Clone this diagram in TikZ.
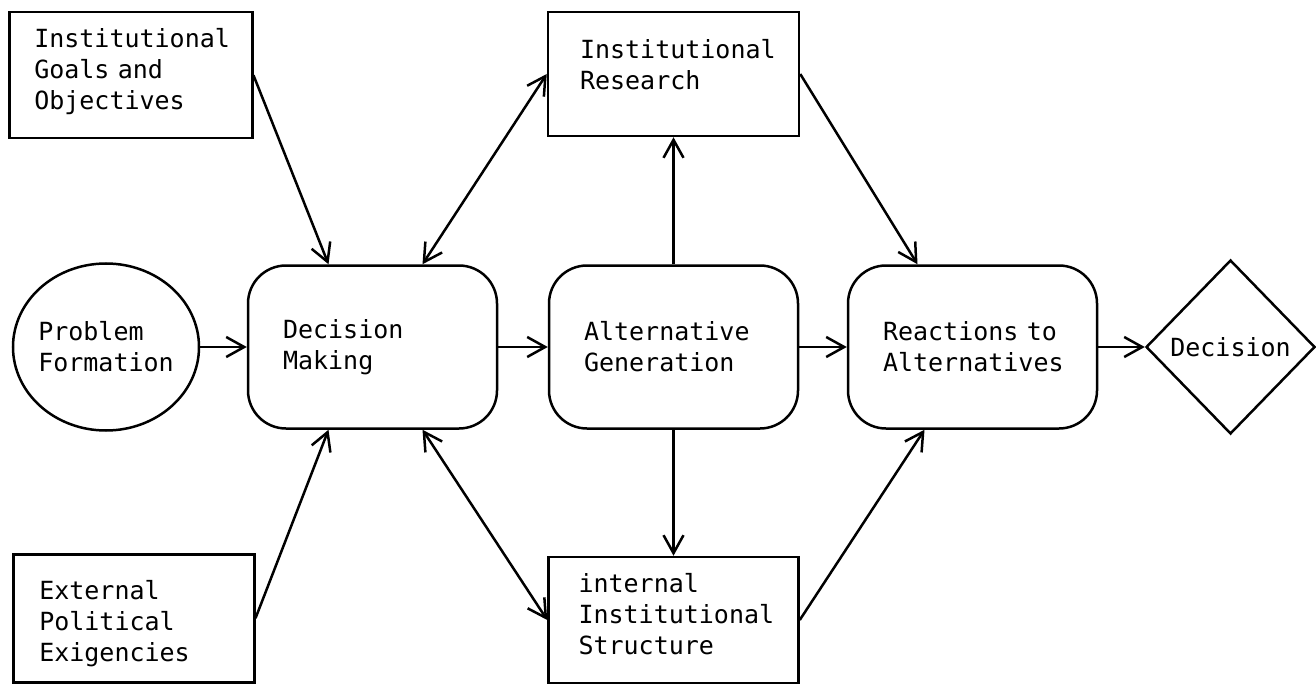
\documentclass[tikz,border=0pt]{standalone}
\usepackage{fontspec}
\setmainfont{DejaVu Sans Mono}
\usetikzlibrary{arrows.meta, positioning, shapes.geometric}

\begin{document}
\begin{tikzpicture}[x=0.5pt, y=-0.5pt,
						line width=1.25pt,
						>={Straight Barb[length=9pt, width=10pt]},
						every node/.append style={font=\fontsize{12.5pt}{15.5pt}\selectfont},
						block/.style={draw, rectangle, align=left, anchor=north west, text height=9.5pt},
						stage/.style={draw, rectangle, rounded corners=19pt, align=left, text width=89.5pt, inner xsep=17.5pt, minimum height=81.5pt},
						every edge/.append style={draw, line width=1.25pt},]
		\useasboundingbox (0,0) rectangle (1316,684);

		\node (prob) [draw, ellipse, align=left, minimum width=93pt, minimum height=83.5pt, inner xsep=-1.5pt, inner ysep=0pt] at (106,347) {Problem\\Formation};
		\node (dm) [stage, right=23.25pt of prob] {Decision\\Making};
		\node (alt) [stage, right=24.75pt of dm] {Alternative\\Generation};
		\node (react) [stage, right=23.75pt of alt] {Reactions to\\Alternatives};
		\node (dec) [draw, diamond, minimum width=84.5pt, minimum height=87pt, inner sep=0pt, right=23.25pt of react] {Decision};

		\node (goals) [block, text width=96.5pt, inner xsep=12.5pt, inner ysep=8pt, text depth=37.5pt] at (8,11) {Institutional\\Goals and\\Objectives};
		\node (ext) [block, text width=94.5pt, inner xsep=13pt, inner ysep=13pt, text depth=28.5pt] at (12,553) {External\\Political\\Exigencies};
		\node (research) [block, text width=93.5pt, inner xsep=16pt, inner ysep=14pt, text depth=24.5pt, above=63.5pt of alt] {Institutional\\Research};
		\node (internal) [block, text width=95pt, inner xsep=15pt, inner ysep=8pt, text depth=37.5pt, below=63pt of alt] {internal\\Institutional\\Structure};

		\path 	(prob) edge[->] (dm)
				(dm) edge[->] (alt)
				(alt) edge[->] (react)
				(react) edge[->] (dec)
				(goals.east) edge[->] ([xshift=-22pt]dm.north)
				(ext.east) edge[->] ([xshift=-22pt]dm.south)
				([xshift=25pt]dm.north) edge[<->] (research.west)
				([xshift=25pt]dm.south) edge[<->] (internal.west)
				(alt) edge[->] (research)
				(alt) edge[->] (internal)
				(research.east) edge[->] ([xshift=-27.5pt]react.north)
				(internal.east) edge[->] ([xshift=-24pt]react.south);
	\end{tikzpicture}
\end{document}
